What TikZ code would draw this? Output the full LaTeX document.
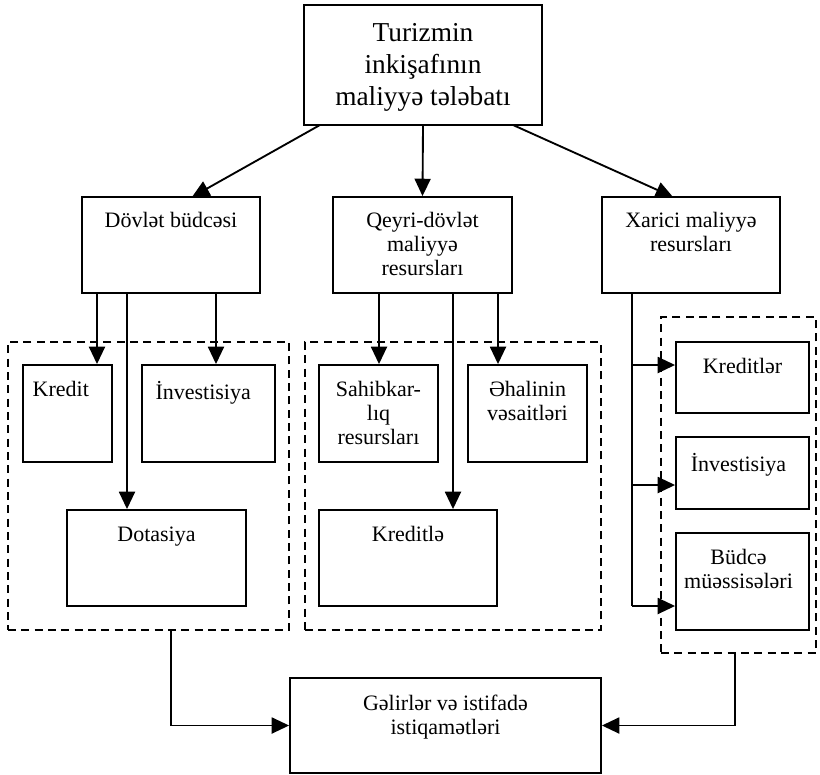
\documentclass[tikz,border=0pt]{standalone}
\usepackage{fontspec}
\setmainfont{Liberation Serif}
\usetikzlibrary{arrows.meta,fit}
\begin{document}
\begin{tikzpicture}[x=0.75pt,y=-0.75pt,
 box/.style={draw, line width=1.4pt, inner sep=0pt},
 dbox/.style={draw, line width=1.3pt, dash pattern=on 6pt off 4pt, inner sep=0pt},
 txt/.style={font=\fontsize{16.5}{18}\selectfont, align=center, inner sep=0pt, anchor=north},
 ttl/.style={font=\fontsize{20.5}{24}\selectfont, align=center, inner sep=0pt, anchor=north},
 arr/.style={line width=1.4pt, -{Triangle[length=13pt,width=12pt]}},
 ln/.style={line width=1.4pt}]
\useasboundingbox (0,0) rectangle (820,774);
% dashed groups
\node[dbox, fit={(8,342) (289,630)}] (gl) {};
\node[dbox, fit={(305,342) (601,630)}] (gm) {};
\node[dbox, fit={(661,317) (816,653)}] (gr) {};
% boxes
\node[box, fit={(304,5) (542,125)}] (top) {};
\node[box, fit={(82,197) (260,293)}] (dov) {};
\node[box, fit={(333,197) (512,293)}] (qey) {};
\node[box, fit={(602,197) (780,293)}] (xar) {};
\node[box, fit={(23,365) (112,462)}] (kre) {};
\node[box, fit={(142,365) (275,462)}] (inv) {};
\node[box, fit={(67,510) (246,606)}] (dot) {};
\node[box, fit={(319,365) (438,462)}] (sah) {};
\node[box, fit={(468,365) (587,462)}] (eha) {};
\node[box, fit={(319,510) (497,606)}] (krl) {};
\node[box, fit={(676,342) (809,413)}] (krr) {};
\node[box, fit={(676,437) (809,509)}] (invr) {};
\node[box, fit={(676,533) (809,630)}] (bud) {};
\node[box, fit={(290,678) (601,773)}] (bot) {};
% texts
\node[ttl] (topT) at ([yshift=-14pt]top.north) {Turizmin\\inkişafının\\maliyyə tələbatı};
\node[txt] (dovT) at ([yshift=-12pt]dov.north) {Dövlət büdcəsi};
\node[txt] (qeyT) at ([yshift=-12pt]qey.north) {Qeyri-dövlət\\maliyyə\\resursları};
\node[txt] (xarT) at ([yshift=-12pt]xar.north) {Xarici maliyyə\\resursları};
\node[txt] (kreT) at ([yshift=-13pt,xshift=-5pt]kre.north) {Kredit};
\node[txt] (invT) at ([yshift=-13pt,xshift=-4pt]inv.north) {İnvestisiya};
\node[txt] (dotT) at ([yshift=-13pt]dot.north) {Dotasiya};
\node[txt] (sahT) at ([yshift=-13pt]sah.north) {Sahibkar-\\lıq\\resursları};
\node[txt] (ehaT) at ([yshift=-13pt]eha.north) {Əhalinin\\vəsaitləri};
\node[txt] (krlT) at ([yshift=-13pt]krl.north) {Kreditlə};
\node[txt] (krrT) at ([yshift=-13pt]krr.north) {Kreditlər};
\node[txt] (invrT) at ([yshift=-13pt,xshift=-3pt]invr.north) {İnvestisiya};
\node[txt] (budT) at ([yshift=-13pt,xshift=-3pt]bud.north) {Büdcə\\müəssisələri};
\node[txt] (botT) at ([yshift=-13pt]bot.north) {Gəlirlər və istifadə\\istiqamətləri};
% helper coordinates
\coordinate (t1) at (320,125);
\coordinate (t3) at (513,125);
\coordinate (h1) at (192,197);
\coordinate (h3) at (673,197);
\coordinate (xa) at (97,0);
\coordinate (xb) at (127,0);
\coordinate (xc) at (216,0);
\coordinate (xd) at (379,0);
\coordinate (xe) at (453,0);
\coordinate (xf) at (498,0);
\coordinate (xg) at (632,0);
\coordinate (ya) at (0,365);
\coordinate (yb) at (0,485);
\coordinate (yc) at (0,606);
\coordinate (xl) at (171,0);
\coordinate (xr) at (735,0);
% top arrows
\draw[arr] (t1) -- (h1);
\draw[arr] (top.south) -- (qey.north);
\draw[arr] (t3) -- (h3);
% left group
\draw[arr] (dov.south -| xa) -- (kre.north -| xa);
\draw[arr] (dov.south -| xc) -- (inv.north -| xc);
\draw[arr] (dov.south -| xb) -- (dot.north -| xb);
% middle group
\draw[arr] (qey.south -| xd) -- (sah.north -| xd);
\draw[arr] (qey.south -| xf) -- (eha.north -| xf);
\draw[arr] (qey.south -| xe) -- (krl.north -| xe);
% right group
\draw[ln] (xar.south -| xg) -- (xg |- yc);
\draw[arr] (xg |- ya) -- (krr.west |- ya);
\draw[arr] (xg |- yb) -- (invr.west |- yb);
\draw[arr] (xg |- yc) -- (bud.west |- yc);
% bottom
\draw[arr] (gl.south -| xl) |- (bot.west);
\draw[arr] (gr.south -| xr) |- (bot.east);
\end{tikzpicture}
\end{document}
